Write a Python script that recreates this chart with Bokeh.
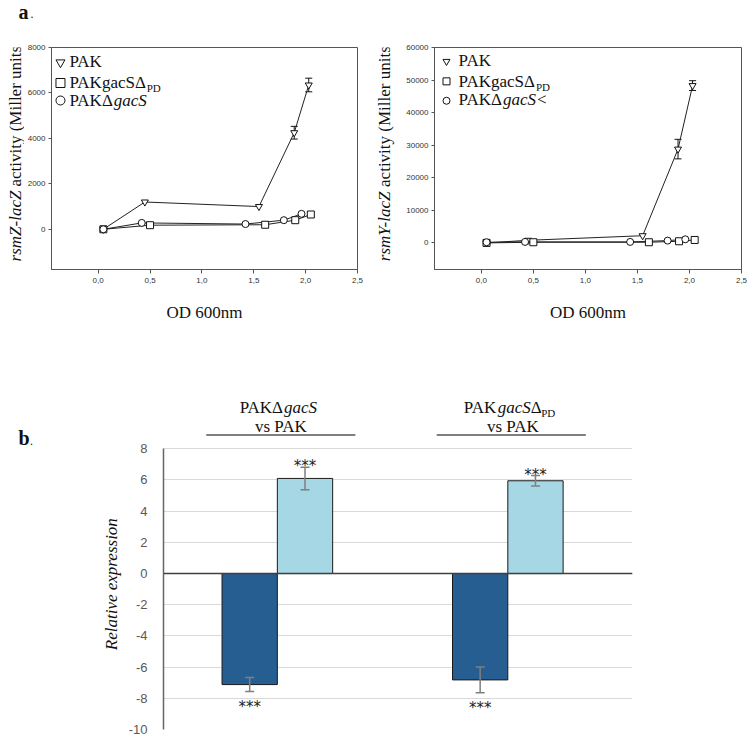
from math import pi
import pandas as pd
from bokeh.plotting import figure
from bokeh.models import (Range1d, FixedTicker, CustomJSTickFormatter, ColumnDataSource,
                          Whisker, TeeHead, Span)
from bokeh.layouts import column, row
from bokeh.core.properties import value
from bokeh.embed import file_html
from bokeh.resources import INLINE

SERIF = "Liberation Serif"
SANS = "Liberation Sans"
NBSP = "\u00a0"

# ---------------- panel a data ----------------
od_ticks = [0.0, 0.5, 1.0, 1.5, 2.0, 2.5]

rsmZ_ticks = [0, 2000, 4000, 6000, 8000]
rsmZ_PAK_od = [0.05, 0.45, 1.55, 1.89, 2.03]
rsmZ_PAK = [0, 1200, 1000, 4250, 6350]
rsmZ_PAK_err = [0, 0, 0, 280, 300]
rsmZ_PD_od = [0.05, 0.50, 1.61, 1.90, 2.05]
rsmZ_PD = [0, 180, 200, 400, 650]
rsmZ_DEL_od = [0.05, 0.42, 1.42, 1.79, 1.96]
rsmZ_DEL = [0, 280, 230, 400, 680]

rsmY_ticks = [0, 10000, 20000, 30000, 40000, 50000, 60000]
rsmY_PAK_od = [0.05, 0.45, 1.55, 1.89, 2.03]
rsmY_PAK = [0, 800, 2200, 28800, 48300]
rsmY_PAK_err = [0, 0, 0, 3000, 1500]
rsmY_PD_od = [0.05, 0.50, 1.61, 1.90, 2.05]
rsmY_PD = [0, 200, 200, 500, 900]
rsmY_DEL_od = [0.05, 0.42, 1.43, 1.79, 1.96]
rsmY_DEL = [200, 300, 300, 700, 1100]

# ---------------- panel b data ----------------
comparisons = ["PAKΔgacS vs PAK", "PAKgacSΔPD vs PAK"]
comp_pos = [1, 2]
dark_vals = [-7.12, -6.82]
dark_err = [0.45, 0.82]
light_vals = [6.10, 5.95]
light_err = [0.72, 0.33]
rel_ticks = [-10, -8, -6, -4, -2, 0, 2, 4, 6, 8]


def txt(p, xs, ys, texts, style="normal", size=17, font=SERIF, xr="px", yr="py",
        align="left", baseline="alphabetic", x_offset=0, color="#111111", angle=0.0):
    # alphabetic baselines render ~0.35em low; compensate (y grows downward in these ranges)
    if baseline == "alphabetic":
        ys = [y - 0.35 * size for y in ys]
    p.text(x=xs, y=ys, text=texts, text_font=value(font), text_font_style=style,
           text_font_size=f"{size}px", text_align=align, text_baseline=baseline, angle=angle,
           text_color=color, x_offset=x_offset, x_range_name=xr, y_range_name=yr)


def strip(x0, x1, y0, y1):
    """Blank figure whose data coordinates are page pixels (used for outside-frame texts)."""
    s = figure(width=x1 - x0, height=y1 - y0, output_backend="svg", toolbar_location=None,
               x_range=Range1d(x0, x1), y_range=Range1d(y1, y0),
               x_axis_location=None, y_axis_location=None,
               min_border=0, min_border_left=0, min_border_right=0,
               min_border_top=0, min_border_bottom=0)
    s.grid.visible = False
    s.outline_line_color = None
    return s


ROW_T, ROW_B = 38, 345


def panel_a(cfg):
    x0, x1 = cfg["x0"], cfg["x1"]
    fl, fr, ft, fb = cfg["fl"], cfg["fr"], cfg["ft"], cfg["fb"]
    p = figure(width=x1 - x0, height=ROW_B - ROW_T, output_backend="svg", toolbar_location=None,
               x_range=Range1d(-0.45, 2.5), y_range=Range1d(cfg["ylo"], cfg["yhi"]),
               min_border_left=fl - x0, min_border_right=x1 - fr,
               min_border_top=ft - ROW_T, min_border_bottom=ROW_B - fb)
    p.extra_x_ranges = {"px": Range1d(fl, fr)}
    p.extra_y_ranges = {"py": Range1d(fb, ft)}
    p.grid.visible = False
    p.outline_line_color = "#555555"
    p.outline_line_width = 1
    for ax in (p.xaxis[0], p.yaxis[0]):
        ax.axis_line_color = "#555555"
        ax.major_tick_line_color = "#555555"
        ax.minor_tick_line_color = None
        ax.major_tick_in = 0
        ax.major_label_text_font = SANS
        ax.major_label_text_font_size = "8px"
        ax.major_label_text_color = "#333333"
    p.xaxis.ticker = FixedTicker(ticks=od_ticks)
    p.xaxis.formatter = CustomJSTickFormatter(code="return tick.toFixed(1).replace('.', ',');")
    p.xaxis.major_tick_out = 4
    p.xaxis.major_label_standoff = 4
    p.xaxis.axis_label = "OD 600nm"
    p.xaxis.axis_label_text_font = SERIF
    p.xaxis.axis_label_text_font_style = "normal"
    p.xaxis.axis_label_text_font_size = "17px"
    p.xaxis.axis_label_text_color = "#111111"
    p.xaxis.axis_label_standoff = 17
    p.yaxis.ticker = FixedTicker(ticks=cfg["yticks"])
    p.yaxis.major_tick_out = 3
    p.yaxis.major_label_standoff = 3

    markers = ["inverted_triangle", "square", "circle"]
    for xs, ys in cfg["series"]:
        p.line(xs, ys, line_color="#222222", line_width=1)
    xs, ys = cfg["series"][0]
    df = pd.DataFrame({"x": xs, "y": ys, "e": cfg["err"]})
    df = df[df["e"] > 0].copy()
    df["upper"] = df["y"] + df["e"]
    df["lower"] = df["y"] - df["e"]
    p.add_layout(Whisker(source=ColumnDataSource(df), base="x", upper="upper", lower="lower",
                         line_color="#111111", line_width=1,
                         upper_head=TeeHead(size=7, line_color="#111111", line_width=1),
                         lower_head=TeeHead(size=7, line_color="#111111", line_width=1)))
    for (xs, ys), m in zip(cfg["series"], markers):
        p.scatter(xs, ys, marker=m, size=7, fill_color="white", line_color="#111111", line_width=1)

    # legend
    mx, tx = fl + cfg["leg_dm"], fl + cfg["leg_dt"]
    p.scatter(x=[mx] * 3, y=cfg["leg_my"], marker=markers, size=cfg["leg_size"],
              fill_color="white", line_color="#111111", line_width=1,
              x_range_name="px", y_range_name="py")
    by = cfg["leg_by"]
    txt(p, [tx, tx, tx], by, ["PAK", "PAKgacSΔ", "PAKΔ"])
    txt(p, [tx + 77.5], [by[1] + 3.5], ["PD"], size=11)
    txt(p, [tx + 44.4], [by[2]], ["gacS"], style="italic")
    if cfg["tail"]:
        txt(p, [tx + 44.4 + 34.0], [by[2]], [cfg["tail"]])
    return p


def ylabel_strip(x0, x1, cx, ft, fb, gene):
    # Both pieces are padded with no-break spaces to the full label length and centred on
    # the same point, so the italic gene name and the plain remainder line up.
    s = strip(x0, x1, ROW_T, ROW_B)
    cy = (ft + fb) / 2 + 24   # rotated text in this narrow strip renders ~24px high
    italic_part = gene + NBSP * 35
    plain_part = NBSP * 18 + "activity (Miller units)"
    txt(s, [cx], [cy], [italic_part], style="italic", xr="default", yr="default",
        align="center", baseline="middle", angle=pi / 2)
    txt(s, [cx], [cy], [plain_part], xr="default", yr="default",
        align="center", baseline="middle", angle=pi / 2)
    return s


p1 = panel_a(dict(x0=24, x1=370, fl=50, fr=357, ft=47, fb=269, ylo=-1770, yhi=8000,
                  yticks=rsmZ_ticks,
                  series=[(rsmZ_PAK_od, rsmZ_PAK), (rsmZ_PD_od, rsmZ_PD), (rsmZ_DEL_od, rsmZ_DEL)],
                  err=rsmZ_PAK_err, leg_dm=9, leg_dt=18,
                  leg_my=[62, 82.5, 100], leg_by=[66.5, 87.5, 106], leg_size=9, tail=""))
p2 = panel_a(dict(x0=400, x1=750, fl=434, fr=741, ft=47, fb=270, ylo=-8170, yhi=60000,
                  yticks=rsmY_ticks,
                  series=[(rsmY_PAK_od, rsmY_PAK), (rsmY_PD_od, rsmY_PD), (rsmY_DEL_od, rsmY_DEL)],
                  err=rsmY_PAK_err, leg_dm=12, leg_dt=24,
                  leg_my=[61, 81, 100.5], leg_by=[66, 87, 105], leg_size=7, tail="<"))
L1 = ylabel_strip(0, 24, 15, 47, 269, "rsmZ-lacZ")
L2 = ylabel_strip(370, 400, 384, 47, 270, "rsmY-lacZ")

A = strip(0, 750, 0, ROW_T)
txt(A, [18], [18], ["a"], style="bold", size=20, xr="default", yr="default")
txt(A, [30], [18], ["."], size=12, xr="default", yr="default")

# ---------------- panel b ----------------
B_T, B_B = 345, 736
FL3, FR3, FB3 = 157, 632, 729
y8_screen = 448.3
ppu_y = (FB3 - y8_screen) / 18.0
y_top = 8 + (y8_screen - B_T) / ppu_y
x_lo, x_hi = 0.506, 2.541
ppu_x = (FR3 - FL3) / (x_hi - x_lo)

p3 = figure(width=750 - 125, height=B_B - B_T, output_backend="svg", toolbar_location=None,
            x_range=Range1d(x_lo, x_hi), y_range=Range1d(-10, y_top), x_axis_location=None,
            min_border_left=FL3 - 125, min_border_right=750 - FR3, min_border_top=0,
            min_border_bottom=B_B - FB3)
p3.extra_y_ranges = {"py": Range1d(FB3, B_T)}
p3.outline_line_color = None
p3.xgrid.visible = False
p3.yaxis.ticker = FixedTicker(ticks=rel_ticks)
p3.yaxis.formatter = CustomJSTickFormatter(code="return tick.toFixed(0);")
p3.yaxis.bounds = (-10, 8)
p3.yaxis.axis_line_color = "#666666"
p3.yaxis.axis_line_width = 1.5
p3.yaxis.major_tick_line_color = None
p3.yaxis.minor_tick_line_color = None
p3.yaxis.major_label_standoff = 10
p3.yaxis.major_label_text_font = "Liberation Sans Narrow, Liberation Sans"
p3.yaxis.major_label_text_font_size = "13px"
p3.yaxis.major_label_text_color = "#595959"
p3.ygrid.grid_line_color = "#d9d9d9"
p3.ygrid.grid_line_width = 1

bw = 0.24
bdf = pd.DataFrame({"g": comp_pos, "dark": dark_vals, "de": dark_err,
                    "light": light_vals, "le": light_err})
bdf["xd"] = bdf["g"] - bw / 2
bdf["xl"] = bdf["g"] + bw / 2
bdf["d_up"] = bdf["dark"] + bdf["de"]
bdf["d_lo"] = bdf["dark"] - bdf["de"]
bdf["l_up"] = bdf["light"] + bdf["le"]
bdf["l_lo"] = bdf["light"] - bdf["le"]
bdf["d_star"] = bdf["d_lo"] - 1.0
bdf["l_star"] = bdf["l_up"] + 0.05
bdf["stars"] = ["***"] * len(bdf)
bsrc = ColumnDataSource(bdf)

p3.vbar(x="xd", top="dark", bottom=0, width=bw, source=bsrc, fill_color="#275E92",
        line_color="#1a1a1a", line_width=1)
p3.vbar(x="xl", top="light", bottom=0, width=bw, source=bsrc, fill_color="#A5D7E5",
        line_color="#1a1a1a", line_width=1)
p3.add_layout(Span(location=0, dimension="width", line_color="#404040", line_width=1.5))
for base, up, lo in (("xd", "d_up", "d_lo"), ("xl", "l_up", "l_lo")):
    p3.add_layout(Whisker(source=bsrc, base=base, upper=up, lower=lo, line_color="#7f7f7f",
                          line_width=1.5, level="overlay",
                          upper_head=TeeHead(size=9, line_color="#7f7f7f", line_width=1.5),
                          lower_head=TeeHead(size=9, line_color="#7f7f7f", line_width=1.5)))
for xcol, ycol in (("xd", "d_star"), ("xl", "l_star")):
    p3.text(x=xcol, y=ycol, text="stars", source=bsrc, text_font=value("DejaVu Sans"),
            text_font_size="15px", text_align="center", text_baseline="alphabetic",
            text_color="#222222")

# header labels above the groups (mixed styles)
g1, g2 = comp_pos
H1, H2 = 413, 432
txt(p3, [g1], [H1], ["PAKΔ"], xr="default", x_offset=-37.7)
txt(p3, [g1], [H1], ["gacS"], style="italic", xr="default", x_offset=6.7)
txt(p3, [g2], [H1], ["PAK"], xr="default", x_offset=-44)
txt(p3, [g2], [H1], ["gacS"], style="italic", xr="default", x_offset=-10)
txt(p3, [g2], [H1], ["Δ"], xr="default", x_offset=23)
txt(p3, [g2], [H1 + 3.5], ["PD"], size=11, xr="default", x_offset=33.4)
txt(p3, [g1], [H2], ["vs PAK"], xr="default", align="center", x_offset=3.5)
txt(p3, [g2], [H2], ["vs PAK"], xr="default", align="center", x_offset=5)
p3.segment(x0=[g - 72 / ppu_x for g in comp_pos], x1=[g + 79 / ppu_x for g in comp_pos],
           y0=[434.5] * 2, y1=[434.5] * 2, line_color="#555555", line_width=1.5,
           y_range_name="py")

Lb = strip(0, 125, B_T, B_B)
txt(Lb, [111], [588], ["Relative expression"], style="italic", xr="default", yr="default",
    align="center", baseline="middle", angle=pi / 2)
txt(Lb, [18], [446], ["b"], style="bold", size=20, xr="default", yr="default")
txt(Lb, [29.5], [446], ["."], size=12, xr="default", yr="default")

layout = column(A, row(L1, p1, L2, p2), row(Lb, p3))
open("out.html", "w").write(file_html(layout, INLINE))
